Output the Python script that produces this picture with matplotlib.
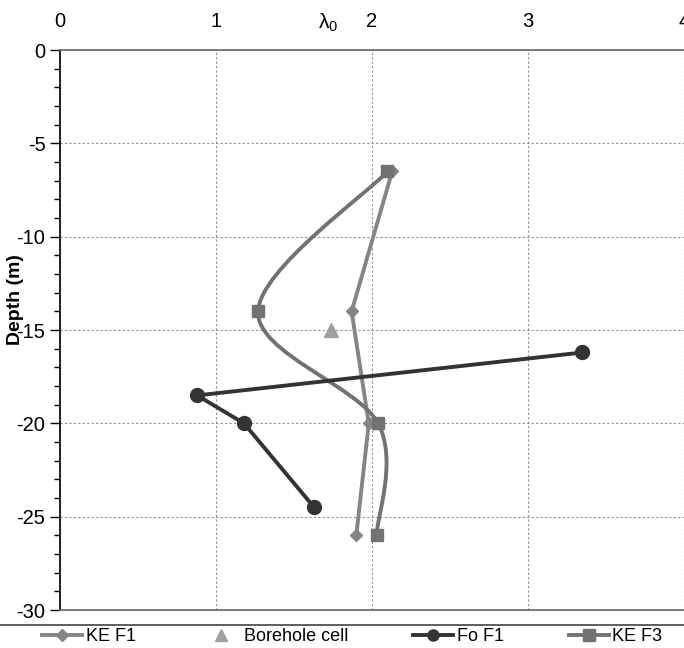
import matplotlib.pyplot as plt
from matplotlib.path import Path
from matplotlib.patches import PathPatch
from matplotlib.lines import Line2D
from matplotlib.ticker import MultipleLocator
import numpy as np

plt.rcParams['font.family'] = ['Liberation Sans', 'DejaVu Sans']
plt.rcParams['axes.unicode_minus'] = False

# data (lambda_0 vs depth)
ke_f1_x = [2.13, 1.87, 1.98, 1.90]
ke_f1_y = [-6.5, -14.0, -20.0, -26.0]

ke_f3_x = [2.10, 1.27, 2.04, 2.03]
ke_f3_y = [-6.5, -14.0, -20.0, -26.0]

fo_f1_x = [3.35, 0.88, 1.18, 1.63]
fo_f1_y = [-16.2, -18.5, -20.0, -24.5]

bh_x = [1.74]
bh_y = [-15.0]

x_ticks = [0, 1, 2, 3, 4]
y_ticks = [0, -5, -10, -15, -20, -25, -30]


def smooth_path(xs, ys):
    # excel-style smoothed line: cubic bezier with catmull-rom control points
    p = np.column_stack([xs, ys])
    n = len(p)
    verts = [p[0]]
    codes = [Path.MOVETO]
    for i in range(n - 1):
        p0 = p[i - 1] if i > 0 else p[i]
        p3 = p[i + 2] if i + 2 < n else p[i + 1]
        c1 = p[i] + (p[i + 1] - p0) / 6.0
        c2 = p[i + 1] - (p3 - p[i]) / 6.0
        verts += [c1, c2, p[i + 1]]
        codes += [Path.CURVE4] * 3
    return Path(verts, codes)


c_ke1 = '#858585'
c_ke3 = '#727272'
c_bh = '#a0a0a0'
c_fo = '#333333'
lw = 2.8

fig = plt.figure(figsize=(6.84, 6.48), dpi=100)
ax = fig.add_axes([0.0877, 0.0586, 0.912, 0.864])

ax.plot(ke_f1_x, ke_f1_y, color=c_ke1, lw=lw, marker='D', ms=6.5, zorder=3)
ax.add_patch(PathPatch(smooth_path(ke_f3_x, ke_f3_y), fill=False, edgecolor=c_ke3, lw=lw, zorder=3))
ax.plot(ke_f3_x, ke_f3_y, ls='none', color=c_ke3, marker='s', ms=9, zorder=4)
ax.plot(fo_f1_x, fo_f1_y, color=c_fo, lw=lw, marker='o', ms=10, zorder=3)
ax.plot(bh_x, bh_y, ls='none', color=c_bh, marker='^', ms=10, zorder=3)

ax.set_xlim(0, 4)
ax.set_ylim(-30, 0)
ax.set_xticks(x_ticks)
ax.set_yticks(y_ticks)
ax.yaxis.set_minor_locator(MultipleLocator(1))
ax.xaxis.tick_top()
ax.tick_params(axis='x', length=0, labelsize=14.5, pad=14)
ax.tick_params(axis='y', which='major', length=7, labelsize=14.5, width=1)
ax.tick_params(axis='y', which='minor', length=4, width=1)
ax.grid(True, which='major', color='#909090', ls=(0, (2, 2)), lw=0.8)

for s in ['top', 'bottom']:
    ax.spines[s].set_color('#707070')
    ax.spines[s].set_linewidth(1.3)
ax.spines['right'].set_visible(False)
ax.spines['left'].set_linewidth(1.2)

fig.text(0.022, 1 - 300 / 648, 'Depth (m)', fontsize=14, fontweight='bold', rotation=90,
         ha='center', va='center')
fig.text(0.0877 + 0.912 * 1.72 / 4, 0.965, r'$\mathregular{\lambda_0}$', fontsize=15, ha='center', va='center')

# legend strip at the bottom
fig.add_artist(Line2D([0, 1], [0.0355, 0.0355], color='#505050', lw=1.3))
handles = [
    Line2D([], [], color=c_ke1, lw=lw, marker='D', ms=6),
    Line2D([], [], ls='none', color=c_bh, marker='^', ms=8),
    Line2D([], [], color=c_fo, lw=lw, marker='o', ms=8),
    Line2D([], [], color=c_ke3, lw=lw, marker='s', ms=8),
]
labels = ['KE F1', 'Borehole cell', 'Fo F1', 'KE F3']
fig.legend(handles, labels, loc='center', bbox_to_anchor=(0.515, 0.018), ncol=4, frameon=False,
           fontsize=13, handlelength=2.2, handletextpad=0.2, columnspacing=3.6, borderaxespad=0)

fig.savefig('out.png', dpi=100)
